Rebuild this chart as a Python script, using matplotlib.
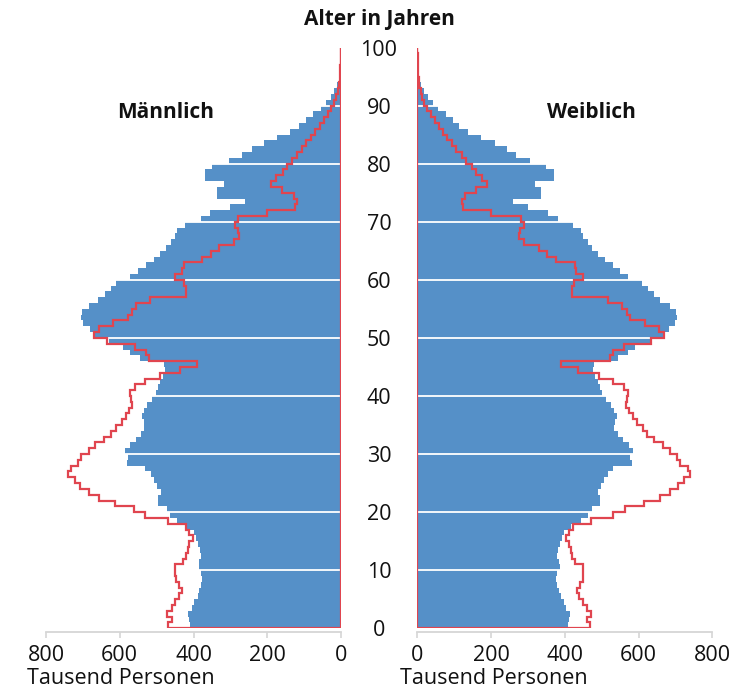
import numpy as np
import matplotlib
matplotlib.use("Agg")
import matplotlib.pyplot as plt

plt.rcParams['font.family'] = ['Open Sans', 'DejaVu Sans']

# Age groups (single years 0..99), edges 0..100
ages = list(range(100))

# Current population (thousand persons), blue bars
current = [409, 412, 414, 404, 398, 389, 385, 380, 377, 380,
           386, 384, 380, 382, 388, 393, 398, 418, 445, 463,
           473, 496, 495, 489, 499, 507, 516, 532, 581, 578,
           585, 573, 557, 543, 534, 535, 541, 534, 525, 512,
           502, 496, 490, 483, 477, 480, 545, 572, 591, 630,
           670, 682, 699, 704, 702, 684, 659, 641, 625, 610,
           571, 550, 530, 508, 490, 474, 462, 450, 444, 422,
           381, 355, 300, 260, 336, 336, 318, 370, 370, 350,
           305, 269, 242, 210, 174, 138, 113, 96, 77, 55,
           42, 28, 18, 11, 6, 4, 2, 1, 1, 0]

# Earlier population (thousand persons), red outline
earlier = [469, 459, 472, 459, 450, 438, 432, 440, 448, 450,
           450, 428, 420, 416, 411, 402, 411, 421, 470, 531,
           562, 614, 657, 684, 708, 722, 740, 733, 713, 704,
           684, 666, 642, 624, 611, 595, 584, 575, 566, 570,
           572, 560, 531, 492, 436, 391, 522, 530, 560, 635,
           670, 655, 618, 578, 568, 555, 517, 420, 420, 425,
           450, 430, 427, 377, 352, 330, 290, 277, 278, 288,
           280, 201, 125, 120, 128, 160, 190, 175, 158, 147,
           133, 120, 106, 94, 81, 70, 58, 47, 36, 27,
           18, 13, 9, 5, 4, 3, 2, 1, 1, 0]

male_current = current
female_current = current
male_earlier = earlier
female_earlier = earlier

xticks = [0, 200, 400, 600, 800]
yticks = [0, 10, 20, 30, 40, 50, 60, 70, 80, 90, 100]

BLUE = '#5590c8'
RED = '#e0454f'
GREY = '#d6d6d6'
TXT = '#111111'

W, H = 730, 691
fig = plt.figure(figsize=(W / 100, H / 100), dpi=100)

bottom = (H - 628.3) / H
top = (H - 47.5) / H
axw = 295.0 / W
axL = fig.add_axes([46.0 / W, bottom, axw, top - bottom])
axR = fig.add_axes([417.3 / W, bottom, axw, top - bottom])

edges = np.arange(0, 101)
yc = np.array(ages) + 0.5

for ax, cur, old in [(axL, male_current, male_earlier), (axR, female_current, female_earlier)]:
    ax.barh(yc, cur, height=1.0, color=BLUE, edgecolor='none', zorder=1)
    for g in yticks[1:-1]:
        ax.axhline(g, color='white', lw=1.3, zorder=2)
    ax.stairs(old, edges, orientation='horizontal', baseline=0, color=RED, lw=1.6, zorder=3)
    ax.plot([0, 0], [0, 100], color=RED, lw=1.6, zorder=3, solid_capstyle='butt')
    ax.set_ylim(0, 100)
    ax.set_xticks(xticks)
    ax.set_xticklabels([str(t) for t in xticks])
    for s in ['top', 'left', 'right']:
        ax.spines[s].set_visible(False)
    ax.spines['bottom'].set_color(GREY)
    ax.spines['bottom'].set_linewidth(1.3)
    ax.spines['bottom'].set_position(('outward', 3))
    ax.tick_params(axis='x', colors=GREY, length=4, width=1.2, pad=5,
                   labelsize=15.5, labelcolor=TXT)
    ax.set_yticks([])
    ax.patch.set_visible(False)

axL.set_xlim(800, 0)
axR.set_xlim(0, 800)

# Age labels between panels
axR.set_yticks(yticks)
axR.set_yticklabels([str(t) for t in yticks])
axR.tick_params(axis='y', length=0, pad=27.6, labelsize=15.5, labelcolor=TXT)
for lbl in axR.get_yticklabels():
    lbl.set_horizontalalignment('center')

fig.text(379 / W, 1 - 20 / H, 'Alter in Jahren', ha='center', va='center',
         fontsize=15, fontweight='bold', color=TXT)
fig.text(166 / W, 1 - 113 / H, 'Männlich', ha='center', va='center',
         fontsize=15, fontweight='bold', color=TXT)
fig.text(591 / W, 1 - 113 / H, 'Weiblich', ha='center', va='center',
         fontsize=15, fontweight='bold', color=TXT)
fig.text(27 / W, 1 - 679 / H, 'Tausend Personen', ha='left', va='center',
         fontsize=15.5, color=TXT)
fig.text(400 / W, 1 - 679 / H, 'Tausend Personen', ha='left', va='center',
         fontsize=15.5, color=TXT)

fig.savefig('out.png', dpi=100, facecolor='white')
